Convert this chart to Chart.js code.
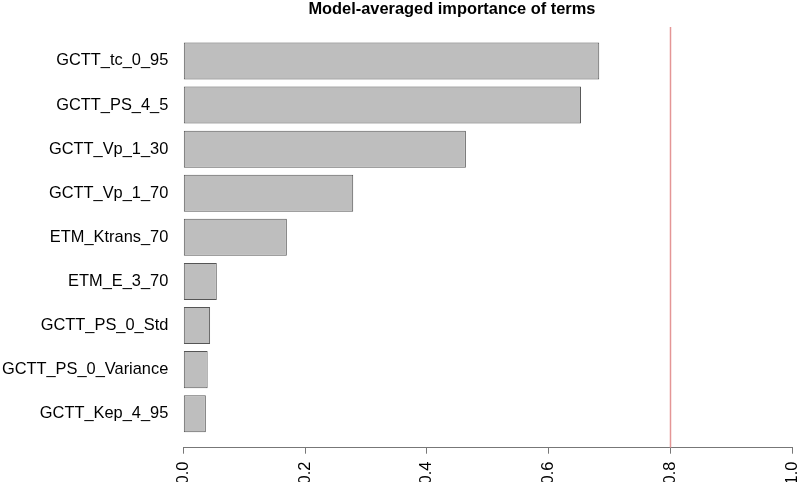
<!DOCTYPE html>
<html>
<head>
<meta charset="utf-8">
<script src="https://cdn.jsdelivr.net/npm/chart.js@4"></script>
<style>
  body { margin: 0; background: #fff; }
  canvas { display: block; }
</style>
</head>
<body>
<canvas id="myChart" width="797" height="482"></canvas>
<script>
// terms from top to bottom
const terms = ['GCTT_tc_0_95', 'GCTT_PS_4_5', 'GCTT_Vp_1_30', 'GCTT_Vp_1_70', 'ETM_Ktrans_70',
  'ETM_E_3_70', 'GCTT_PS_0_Std', 'GCTT_PS_0_Variance', 'GCTT_Kep_4_95'];
const importance = [0.683, 0.653, 0.464, 0.279, 0.170, 0.055, 0.044, 0.040, 0.037];
const xTicks = [0, 0.2, 0.4, 0.6, 0.8, 1.0];
const refLine = 0.8;
const chartTitle = 'Model-averaged importance of terms';

const font = 'Liberation Sans, Arial, sans-serif';

// title drawn over the plot region like R's main title
const titlePlugin = {
  id: 'rtitle',
  afterDraw(chart) {
    const c = chart.ctx;
    c.save();
    c.font = 'bold 16.4px ' + font;
    c.fillStyle = '#000';
    c.textAlign = 'center';
    c.textBaseline = 'alphabetic';
    c.fillText(chartTitle, chart.width * 0.567, 14);
    c.restore();
  }
};

const ctx = document.getElementById('myChart').getContext('2d');
const myChart = new Chart(ctx, {
  type: 'bar',
  data: {
    datasets: [{
      data: importance.map((v, i) => ({ x: v, y: i + 1 })),
      backgroundColor: '#bebebe',
      borderColor: '#555555',
      borderWidth: 1,
      borderSkipped: false,
      categoryPercentage: 1,
      barPercentage: 0.84
    }, {
      type: 'line',
      data: [{ x: refLine, y: 0.23 }, { x: refLine, y: 9.77 }],
      borderColor: 'rgb(228,150,150)',
      borderWidth: 1.5,
      pointRadius: 0
    }]
  },
  options: {
    indexAxis: 'y',
    responsive: false,
    animation: false,
    layout: { padding: { top: 27, right: 4.7, left: 0, bottom: 0 } },
    plugins: {
      legend: { display: false },
      tooltip: { enabled: false },
      title: { display: false }
    },
    scales: {
      x: {
        type: 'linear',
        min: 0,
        max: 1,
        afterBuildTicks: (scale) => { scale.ticks = xTicks.map(v => ({ value: v })); },
        afterFit: (scale) => {
          scale.height = 34.3;
          scale.paddingLeft = 0;
          scale.paddingRight = 0;
        },
        ticks: {
          autoSkip: false,
          minRotation: 90,
          maxRotation: 90,
          padding: 8,
          color: '#000',
          font: { family: font, size: 16.4 },
          callback: (v) => Number(v).toFixed(1)
        },
        grid: { drawOnChartArea: false, tickLength: 6, color: '#777', lineWidth: 1 },
        border: { color: '#777', width: 1 }
      },
      y: {
        type: 'linear',
        reverse: true,
        offset: false,
        min: 0.23,
        max: 9.77,
        afterBuildTicks: (scale) => { scale.ticks = terms.map((t, i) => ({ value: i + 1 })); },
        afterFit: (scale) => {
          scale.width = 183.3;
          scale.paddingTop = 0;
          scale.paddingBottom = 0;
        },
        ticks: {
          autoSkip: false,
          padding: 15,
          color: '#000',
          font: { family: font, size: 16.4 },
          callback: (v) => terms[v - 1]
        },
        grid: { display: false, drawTicks: false, offset: false },
        border: { display: false }
      }
    }
  },
  plugins: [titlePlugin]
});
</script>
</body>
</html>
